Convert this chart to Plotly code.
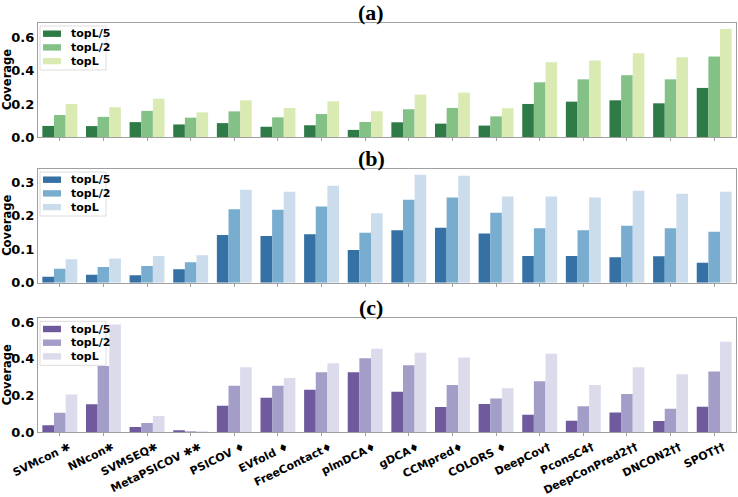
import plotly.graph_objects as go

methods = ["SVMcon ✱", "NNcon✱", "SVMSEQ✱", "MetaPSICOV ✱✱", "PSICOV ♦", "EVfold ♦",
           "FreeContact♦", "plmDCA♦", "gDCA♦", "CCMpred♦", "COLORS ♦", "DeepCov†",
           "PconsC4†", "DeepConPred2††", "DNCON2††", "SPOT††"]
series_names = ["topL/5", "topL/2", "topL"]

a_topL5 = [0.067, 0.066, 0.090, 0.076, 0.084, 0.062, 0.071, 0.043, 0.089, 0.081, 0.069, 0.200, 0.214, 0.222, 0.204, 0.297]
a_topL2 = [0.133, 0.122, 0.158, 0.117, 0.155, 0.119, 0.139, 0.091, 0.168, 0.176, 0.125, 0.331, 0.349, 0.374, 0.349, 0.487]
a_topL  = [0.200, 0.180, 0.232, 0.149, 0.222, 0.175, 0.216, 0.156, 0.257, 0.269, 0.174, 0.452, 0.463, 0.507, 0.483, 0.653]

b_topL5 = [0.018, 0.024, 0.022, 0.040, 0.143, 0.140, 0.145, 0.098, 0.157, 0.164, 0.147, 0.080, 0.080, 0.076, 0.079, 0.060]
b_topL2 = [0.042, 0.047, 0.050, 0.061, 0.220, 0.218, 0.228, 0.149, 0.248, 0.255, 0.209, 0.163, 0.157, 0.170, 0.163, 0.152]
b_topL  = [0.070, 0.072, 0.080, 0.082, 0.278, 0.272, 0.290, 0.208, 0.323, 0.320, 0.258, 0.258, 0.255, 0.275, 0.266, 0.272]

c_topL5 = [0.038, 0.152, 0.029, 0.007, 0.145, 0.188, 0.231, 0.327, 0.220, 0.137, 0.154, 0.096, 0.063, 0.108, 0.061, 0.139]
c_topL2 = [0.107, 0.361, 0.051, 0.005, 0.253, 0.253, 0.327, 0.403, 0.365, 0.257, 0.184, 0.277, 0.141, 0.208, 0.128, 0.331]
c_topL  = [0.206, 0.586, 0.089, 0.005, 0.354, 0.295, 0.376, 0.455, 0.432, 0.407, 0.240, 0.427, 0.257, 0.354, 0.316, 0.493]

panels = [
    ("(a)", [a_topL5, a_topL2, a_topL], ["#2e7b48", "#84c186", "#d9eab2"], [0, 0.69], [0, 0.2, 0.4, 0.6], ["0.0", "0.2", "0.4", "0.6"]),
    ("(b)", [b_topL5, b_topL2, b_topL], ["#3571a5", "#79adcf", "#cbdcec"], [0, 0.34], [0, 0.1, 0.2, 0.3], ["0.0", "0.1", "0.2", "0.3"]),
    ("(c)", [c_topL5, c_topL2, c_topL], ["#6e5a9c", "#a29ec7", "#dcdbeb"], [0, 0.62], [0, 0.2, 0.4, 0.6], ["0.0", "0.2", "0.4", "0.6"]),
]

H = 497.0
W_PLOT = 698.0
L = 38
px_top = [23, 169, 318.3]
px_bot = [137, 282.7, 432.3]


def px_x(p):
    return (p - L) / W_PLOT


def px_y(p):
    return 1 - p / H


fig = go.Figure()
annotations = []
shapes = []
for i, (title, data, colors, yr, tv, tt) in enumerate(panels):
    n = i + 1
    xa = "x" if n == 1 else f"x{n}"
    ya = "y" if n == 1 else f"y{n}"
    for s, vals, col in zip(series_names, data, colors):
        fig.add_trace(go.Bar(x=list(range(len(methods))), y=vals, name=s, marker_color=col,
                             marker_line_width=0, xaxis=xa, yaxis=ya, showlegend=False))
    dom = [px_y(px_bot[i]), px_y(px_top[i])]
    axis_common = dict(showline=True, linecolor="#a0a0a0", linewidth=1.3, mirror=True,
                       showgrid=False, zeroline=False, automargin=False)
    fig.update_layout(**{
        ("xaxis" if n == 1 else f"xaxis{n}"): dict(
            domain=[0, 1], anchor=ya, range=[-0.5, len(methods) - 0.5],
            tickmode="array", tickvals=list(range(len(methods))),
            ticktext=methods if n == 3 else [""] * len(methods),
            ticks="outside", ticklen=3, tickcolor="#a0a0a0", tickangle=-26,
            ticklabeloverflow="allow", ticklabelshift=9, ticklabelstandoff=0,
            tickfont=dict(family="DejaVu Sans", size=11, color="black", weight="bold"),
            **axis_common),
        ("yaxis" if n == 1 else f"yaxis{n}"): dict(
            domain=dom, anchor=xa, range=yr, tickmode="array", tickvals=tv, ticktext=tt,
            ticks="", tickfont=dict(family="DejaVu Sans", size=13, color="black", weight="bold"),
            **axis_common),
    })
    annotations.append(dict(text=title, xref="paper", yref="paper",
                            x=px_x(371), y=px_y(px_top[i] - 11),
                            xanchor="center", yanchor="middle", showarrow=False,
                            font=dict(family="Liberation Serif", size=22, color="black", weight="bold")))
    annotations.append(dict(text="Coverage", xref="paper", yref="paper",
                            x=px_x(7), y=px_y((px_top[i] + px_bot[i]) / 2),
                            xanchor="center", yanchor="middle", textangle=-90, showarrow=False,
                            font=dict(family="DejaVu Sans", size=11.5, color="black", weight="bold")))
    # legend box
    t0 = px_top[i]
    shapes.append(dict(type="rect", xref="paper", yref="paper", layer="above",
                       x0=px_x(40), x1=px_x(106), y0=px_y(t0 + 47), y1=px_y(t0 + 3),
                       fillcolor="white", line=dict(color="#dddddd", width=1)))
    for k, (s, col) in enumerate(zip(series_names, colors)):
        cy = t0 + 10.7 + k * 13.7
        shapes.append(dict(type="rect", xref="paper", yref="paper", layer="above",
                           x0=px_x(43), x1=px_x(61), y0=px_y(cy + 3.2), y1=px_y(cy - 3.2),
                           fillcolor=col, line=dict(width=0)))
        annotations.append(dict(text=s, xref="paper", yref="paper", x=px_x(69), y=px_y(cy),
                                xanchor="left", yanchor="middle", showarrow=False,
                                font=dict(family="DejaVu Sans", size=11, color="black", weight="bold")))

fig.update_layout(
    width=738, height=497, margin=dict(l=L, r=2, t=0, b=0, autoexpand=False),
    plot_bgcolor="white", paper_bgcolor="white",
    barmode="group", bargap=0.2, bargroupgap=0,
    annotations=annotations, shapes=shapes,
)
fig.write_html("out.html", config={"displayModeBar": False},
               post_script="document.body.style.margin='0';document.body.style.overflow='hidden';")
